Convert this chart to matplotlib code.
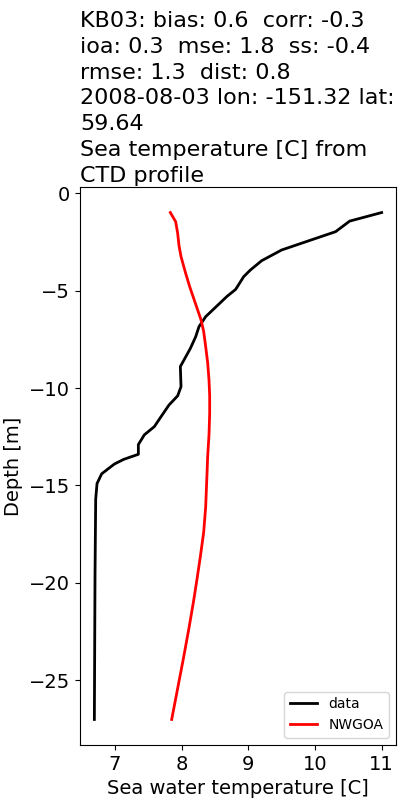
import numpy as np
import matplotlib
matplotlib.use("Agg")
import matplotlib.pyplot as plt

# CTD profile (data) and model (NWGOA), depth in m (negative down)
dataTemp = [11.0, 10.52, 10.31, 9.50, 9.20, 9.03, 8.93, 8.81, 8.68, 8.36, 8.26, 8.21,
            8.13, 7.98, 7.99, 7.94, 7.81, 7.69, 7.59, 7.44, 7.35, 7.35, 7.13, 6.99,
            6.80, 6.73, 6.71, 6.70, 6.69]
dataDepth = [-1.0, -1.44, -1.98, -2.92, -3.47, -3.95, -4.29, -4.94, -5.3, -6.34, -6.85, -7.37,
             -7.97, -8.9, -9.93, -10.4, -10.87, -11.47, -11.98, -12.4, -12.9, -13.4, -13.66, -13.9,
             -14.4, -14.9, -15.7, -19.5, -27.0]

modelTemp = [7.83, 7.91, 7.94, 7.96, 7.99, 8.06, 8.12, 8.18, 8.24, 8.29, 8.33, 8.36, 8.39,
             8.41, 8.42, 8.42, 8.41, 8.39, 8.38, 8.36, 8.33, 8.28, 8.23, 8.18, 8.11,
             8.03, 7.94, 7.85]
modelDepth = [-1.0, -1.47, -2.07, -2.7, -3.26, -4.12, -4.8, -5.4, -6.0, -6.5, -7.1, -7.88, -8.7,
              -9.59, -10.4, -11.3, -12.4, -13.5, -14.4, -16.1, -17.4, -18.65, -19.8, -20.9, -22.3,
              -23.8, -25.4, -27.0]

titleLines = ["KB03: bias: 0.6  corr: -0.3",
              "ioa: 0.3  mse: 1.8  ss: -0.4",
              "rmse: 1.3  dist: 0.8",
              "2008-08-03 lon: -151.32 lat:",
              "59.64",
              "Sea temperature [C] from",
              "CTD profile"]

plt.rcParams["font.size"] = 14

fig, ax = plt.subplots(figsize=(4, 8), dpi=100)
ax.plot(dataTemp, dataDepth, c="k", lw=2, label="data")
ax.plot(modelTemp, modelDepth, c="r", lw=2, label="NWGOA")
ax.set_xlabel("Sea water temperature [C]")
ax.set_ylabel("Depth [m]")
ax.set_title("\n".join(titleLines), loc="left", fontsize=16, linespacing=1.36, pad=4)
ax.legend(loc="lower right", fontsize=10)

fig.subplots_adjust(left=0.2, right=0.99, bottom=0.069, top=0.766)
fig.savefig("out.png")
